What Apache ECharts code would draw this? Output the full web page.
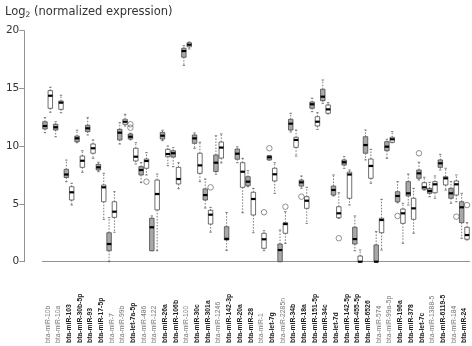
<!DOCTYPE html>
<html>
<head>
<meta charset="utf-8">
<script src="https://cdn.jsdelivr.net/npm/echarts@6/dist/echarts.min.js"></script>
<style>
html, body { margin: 0; padding: 0; background: #fff; }
#box { width: 472px; height: 346px; }
</style>
</head>
<body>
<div id="box"></div>
<script>
// miRNA names, one per pair of boxes (gray = first group, white = second group)
var mirnas = ['bta-miR-10b', 'bta-miR-10a', 'bta-miR-103', 'bta-miR-30b-5p', 'bta-miR-93',
    'bta-miR-17-5p', 'bta-miR-7', 'bta-miR-99b', 'bta-let-7a-5p', 'bta-miR-486',
    'bta-miR-122', 'bta-miR-26a', 'bta-miR-106b', 'bta-miR-100', 'bta-miR-30c',
    'bta-miR-301a', 'bta-miR-1246', 'bta-miR-142-3p', 'bta-miR-20a', 'bta-miR-28',
    'bta-miR-1', 'bta-let-7g', 'bta-miR-2285n', 'bta-miR-34b', 'bta-miR-18a',
    'bta-miR-151-5p', 'bta-miR-34c', 'bta-let-7d', 'bta-miR-142-5p', 'bta-miR-455-5p',
    'bta-miR-6526', 'bta-miR-574', 'bta-miR-99a-5p', 'bta-miR-196a', 'bta-miR-378',
    'bta-let-7c', 'bta-miR-1388-5', 'bta-miR-6119-5', 'bta-miR-184', 'bta-miR-24'];

// 1 = label printed in bold
var boldNames = [0, 0, 1, 1, 1, 1, 0, 0, 1, 0,
    0, 1, 1, 0, 1, 1, 0, 1, 1, 1,
    0, 1, 0, 1, 1, 1, 1, 1, 1, 1,
    1, 0, 0, 1, 1, 1, 0, 1, 0, 1];

// [min, Q1, median, Q3, max]
var grayBoxes = [
    [11.17, 11.49, 11.75, 12.12, 12.47], [10.82, 11.4, 11.64, 11.9, 12.12],
    [6.93, 7.29, 7.55, 8.0, 8.8], [10.3, 10.39, 10.68, 10.88, 11.38],
    [10.97, 11.26, 11.55, 11.81, 12.47], [7.79, 7.94, 8.17, 8.43, 8.61],
    [0, 0.95, 1.53, 2.51, 3.81], [10.19, 10.54, 11.17, 11.46, 12.03],
    [10.55, 10.62, 10.82, 11.06, 11.12], [6.85, 7.51, 7.94, 8.23, 8.57],
    [0.95, 0.95, 2.98, 3.76, 3.96], [10.48, 10.62, 10.91, 11.2, 11.38],
    [8.23, 9.06, 9.39, 9.61, 9.87], [17.0, 17.7, 18.24, 18.48, 18.7],
    [9.82, 10.25, 10.68, 10.97, 11.15], [4.65, 5.34, 5.77, 6.3, 7.16],
    [7.58, 7.81, 8.57, 9.24, 10.9], [0.98, 1.88, 1.98, 3.03, 4.26],
    [8.57, 8.87, 9.35, 9.75, 9.95], [6.49, 6.58, 6.93, 7.36, 7.88],
    null, [8.8, 8.81, 9.04, 9.18, 9.2],
    [0, 0, 1.01, 1.53, 2.74], [11.23, 11.4, 11.95, 12.33, 12.85],
    [6.36, 6.55, 6.87, 7.07, 7.42], [12.99, 13.28, 13.63, 13.83, 14.15],
    [13.71, 13.94, 14.29, 14.93, 15.73], [5.69, 5.77, 6.21, 6.55, 7.51],
    [8.09, 8.37, 8.61, 8.81, 9.09], [0.95, 1.53, 1.96, 2.98, 3.96],
    [8.81, 9.39, 10.1, 10.82, 11.4], [0, 0, 0, 1.45, 2.6],
    [8.95, 9.61, 9.96, 10.39, 10.6], [5.1, 5.19, 5.69, 6.06, 6.93],
    [4.91, 5.69, 5.92, 6.93, 7.59], [7.07, 7.22, 7.65, 7.94, 8.61],
    [5.63, 5.92, 6.12, 6.35, 6.87], [7.94, 8.17, 8.52, 8.81, 9.3],
    [5.06, 5.49, 5.92, 6.35, 6.93], [2.03, 3.38, 4.71, 5.19, 5.92]
];

var whiteBoxes = [
    [12.94, 13.28, 14.37, 14.81, 15.1], [12.9, 13.19, 13.77, 13.91, 14.41],
    [4.91, 5.34, 6.01, 6.49, 6.79], [7.74, 8.17, 8.74, 9.15, 9.61],
    [8.95, 9.39, 9.82, 10.19, 10.54], [3.67, 5.19, 6.44, 6.64, 7.65],
    [2.55, 3.84, 4.33, 5.19, 6.06], [11.75, 11.9, 12.12, 12.33, 12.76],
    [8.46, 8.72, 9.09, 9.82, 10.3], [7.51, 8.09, 8.72, 8.89, 9.44],
    [0.95, 4.48, 5.86, 7.07, 7.59], [8.31, 9.09, 9.32, 9.73, 10.02],
    [6.32, 6.73, 7.16, 8.17, 8.57], [18.42, 18.61, 18.79, 18.96, 19.02],
    [6.93, 7.65, 8.34, 9.39, 10.34], [2.56, 3.26, 4.07, 4.45, 4.7],
    [8.55, 8.97, 9.88, 10.36, 11.06], null,
    [4.24, 6.44, 7.79, 8.57, 8.95], [2.51, 4.04, 5.43, 6.01, 6.35],
    [0.95, 1.16, 1.94, 2.46, 2.68], [5.92, 6.99, 7.57, 8.09, 8.57],
    [1.59, 2.46, 3.26, 3.38, 4.33], [9.15, 9.9, 10.54, 10.77, 11.4],
    [3.32, 4.62, 5.28, 5.63, 6.44], [11.46, 11.75, 12.12, 12.55, 12.9],
    [12.8, 12.85, 13.19, 13.57, 13.77], [3.76, 3.81, 4.19, 4.76, 5.97],
    [4.91, 5.49, 7.55, 7.75, 7.94], [0, 0, 0, 0.49, 1.01],
    [6.79, 7.22, 8.29, 8.89, 9.73], [1.01, 2.51, 3.61, 3.76, 5.4],
    [10.3, 10.34, 10.6, 10.77, 11.26], [1.59, 3.32, 4.19, 4.56, 5.06],
    [2.46, 3.67, 4.62, 5.49, 6.35], [6.2, 6.27, 6.44, 6.84, 7.31],
    [5.49, 5.97, 6.7, 6.93, 7.42], [6.2, 6.64, 7.22, 7.36, 8.09],
    [5.19, 5.77, 6.7, 6.99, 7.51], [1.88, 1.94, 2.31, 2.98, 3.38]
];

// outliers: [miRNA index, value]
var grayOutliers = [[8, 11.6], [8, 11.9], [21, 9.82], [24, 5.63], [33, 3.96], [35, 9.39]];
var whiteOutliers = [[9, 6.93], [15, 6.44], [20, 4.28], [22, 4.76], [27, 2.03], [38, 3.9], [39, 4.9]];

var yTicks = [0, 5, 10, 15, 20];

window.onload = function () {
    var myChart = echarts.init(document.getElementById('box'));

    // 80 box slots: gray at 2k, white at 2k+1
    var slots = [];
    for (var i = 0; i < mirnas.length * 2; i++) slots.push('s' + i);

    function boxData(list, shift) {
        var out = [];
        list.forEach(function (b, k) {
            if (b) out.push([2 * k + shift].concat(b));
        });
        return out;
    }

    function outlierData(list, shift) {
        return list.map(function (o) { return [2 * o[0] + shift, o[1]]; });
    }

    function renderBox(params, api) {
        var x = api.value(0);
        var pMin = api.coord([x, api.value(1)]);
        var pQ1 = api.coord([x, api.value(2)]);
        var pMed = api.coord([x, api.value(3)]);
        var pQ3 = api.coord([x, api.value(4)]);
        var pMax = api.coord([x, api.value(5)]);
        var cx = pMed[0];
        var half = api.size([1, 0])[0] * 0.42;
        var cap = 1.2;
        var lineStyle = { stroke: '#555', lineWidth: 0.8, lineDash: [1.5, 1.5] };
        var capStyle = { stroke: '#555', lineWidth: 0.8 };
        return {
            type: 'group',
            children: [
                { type: 'line', shape: { x1: cx, y1: pQ3[1], x2: cx, y2: pMax[1] }, style: lineStyle },
                { type: 'line', shape: { x1: cx, y1: pQ1[1], x2: cx, y2: pMin[1] }, style: lineStyle },
                { type: 'line', shape: { x1: cx - cap, y1: pMax[1], x2: cx + cap, y2: pMax[1] }, style: capStyle },
                { type: 'line', shape: { x1: cx - cap, y1: pMin[1], x2: cx + cap, y2: pMin[1] }, style: capStyle },
                {
                    type: 'rect',
                    shape: { x: cx - half, y: pQ3[1], width: half * 2, height: Math.max(pQ1[1] - pQ3[1], 0.5) },
                    style: { fill: api.visual('color'), stroke: '#4a4a4a', lineWidth: 0.8 }
                },
                {
                    type: 'rect',
                    shape: { x: cx - half, y: pMed[1] - 1.1, width: half * 2, height: 2.2 },
                    style: { fill: '#000' }
                }
            ]
        };
    }

    var option = {
        animation: false,
        title: {
            text: 'Log{s|2} (normalized expression)',
            left: 0,
            top: 0,
            textStyle: {
                fontSize: 11.5,
                fontWeight: 'normal',
                color: '#333',
                fontFamily: 'DejaVu Sans',
                rich: {
                    s: { fontSize: 7.5, color: '#333', padding: [6, 0, 0, 0], fontFamily: 'DejaVu Sans' }
                }
            }
        },
        grid: { left: 42.3, right: 2.3, top: 30.7, bottom: 84.3 },
        xAxis: [{
            type: 'category',
            data: slots,
            boundaryGap: true,
            offset: 22.8,
            axisLine: { lineStyle: { color: '#777', width: 0.8 } },
            axisTick: { alignWithLabel: true, interval: 0, length: 3.5, lineStyle: { color: '#777', width: 0.8 } },
            axisLabel: { show: false },
            splitLine: { show: false }
        }, {
            type: 'category',
            data: mirnas,
            position: 'bottom',
            boundaryGap: true,
            offset: 22.8,
            axisLine: { show: false },
            axisTick: { show: false },
            axisLabel: {
                interval: 0,
                rotate: 90,
                align: 'left',
                verticalAlign: 'middle',
                margin: 58.5,
                formatter: function (v, idx) {
                    return boldNames[idx] ? '{b|' + v + '}' : '{n|' + v + '}';
                },
                rich: {
                    b: { fontSize: 6.8, fontWeight: 'bold', color: '#222', fontFamily: 'Liberation Sans' },
                    n: { fontSize: 6.8, color: '#777', fontFamily: 'Liberation Sans' }
                }
            }
        }],
        yAxis: {
            type: 'value',
            min: yTicks[0],
            max: yTicks[yTicks.length - 1],
            interval: 5,
            offset: 18,
            axisLine: { show: true, lineStyle: { color: '#777', width: 0.8 } },
            axisTick: { show: true, length: 5, lineStyle: { color: '#777', width: 0.8 } },
            axisLabel: { margin: 5, fontSize: 10.5, color: '#333', fontFamily: 'DejaVu Sans' },
            splitLine: { show: false }
        },
        series: [{
            name: 'gray',
            type: 'custom',
            xAxisIndex: 0,
            renderItem: renderBox,
            clip: false,
            itemStyle: { color: '#a8a8a8' },
            encode: { x: 0, y: [1, 2, 3, 4, 5] },
            data: boxData(grayBoxes, 0)
        }, {
            name: 'white',
            type: 'custom',
            xAxisIndex: 0,
            renderItem: renderBox,
            clip: false,
            itemStyle: { color: '#ffffff' },
            encode: { x: 0, y: [1, 2, 3, 4, 5] },
            data: boxData(whiteBoxes, 1)
        }, {
            name: 'outliers',
            type: 'scatter',
            xAxisIndex: 0,
            symbol: 'circle',
            symbolSize: 5.5,
            itemStyle: { color: 'rgba(255,255,255,0)', borderColor: '#666', borderWidth: 0.9 },
            data: outlierData(grayOutliers, 0).concat(outlierData(whiteOutliers, 1))
        }]
    };
    myChart.setOption(option);
};
</script>
</body>
</html>
